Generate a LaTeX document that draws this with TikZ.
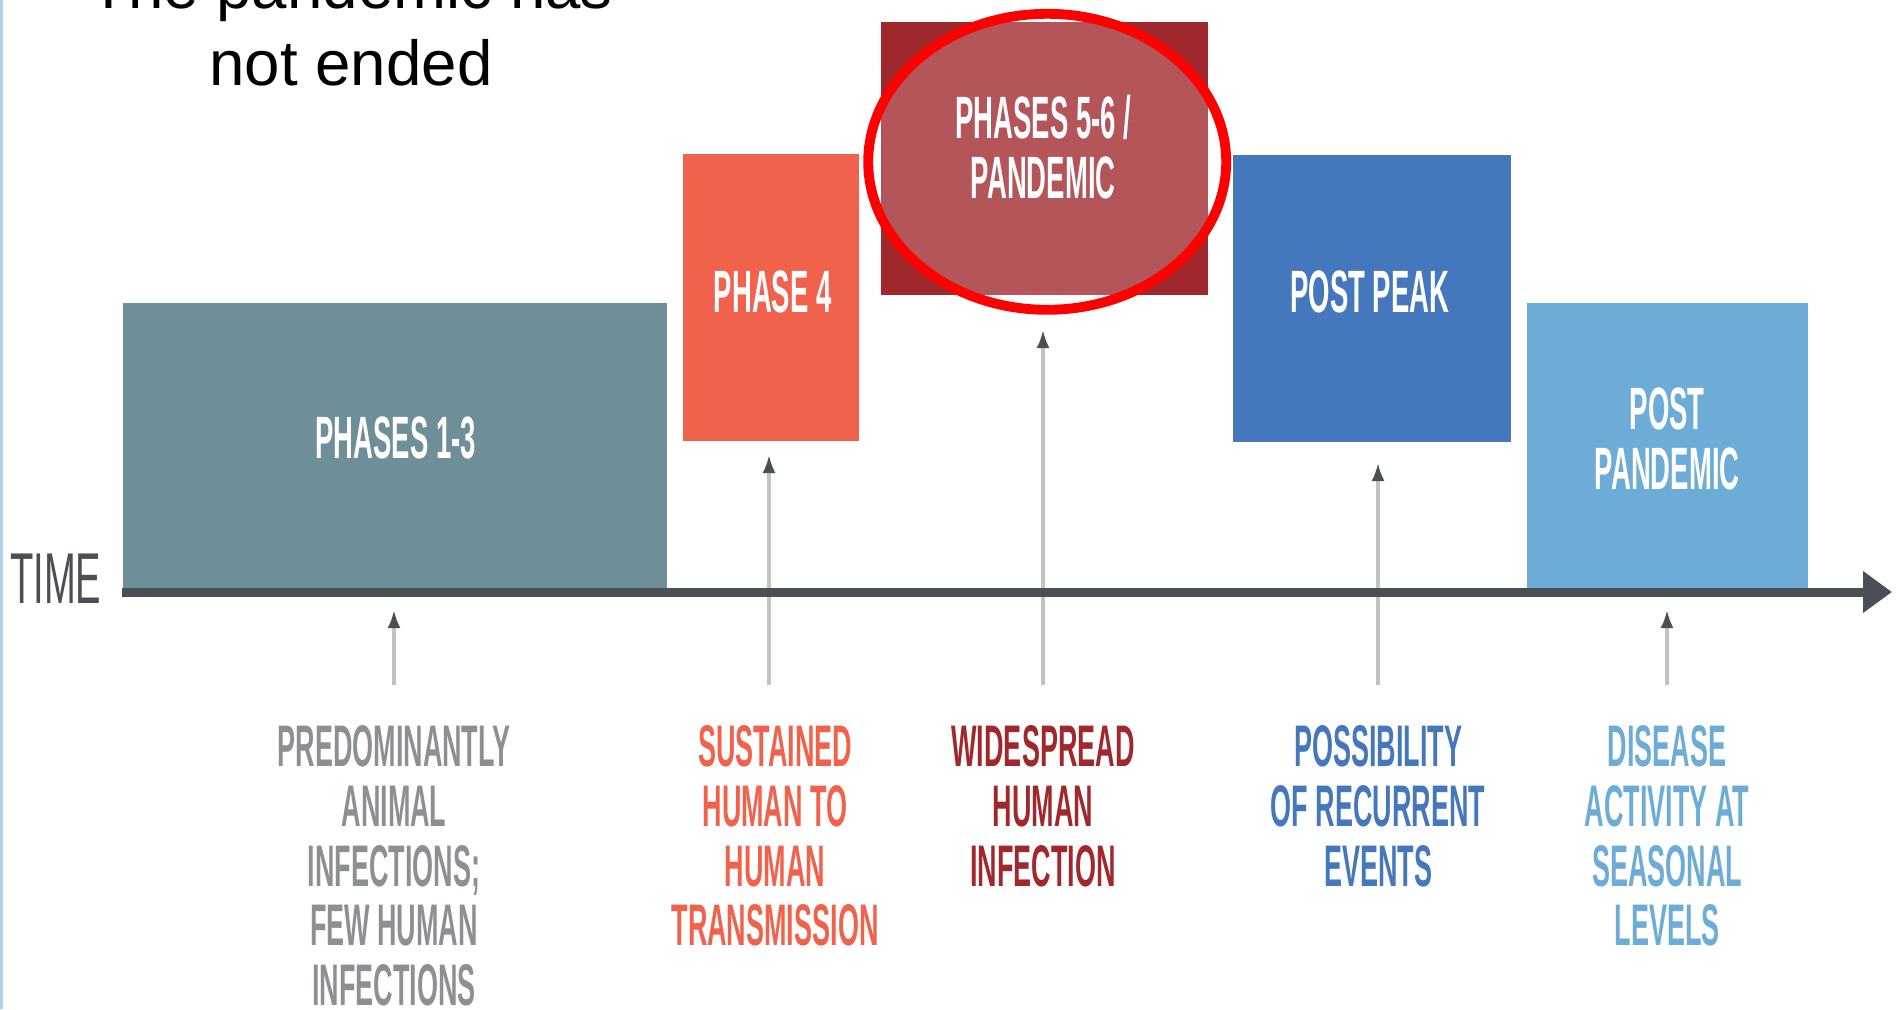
\documentclass[tikz,border=0pt]{standalone}
\usepackage{fontspec}
\setmainfont{Liberation Sans}
\newfontfamily\condfont[FakeStretch=0.46]{Liberation Sans}
\newfontfamily\axisfont[FakeStretch=0.53]{Liberation Sans}
\usetikzlibrary{arrows.meta, positioning}

\definecolor{earlygray}{RGB}{110,143,152}
\definecolor{notegray}{RGB}{140,144,148}
\definecolor{alertorange}{RGB}{240,98,76}
\definecolor{pandred}{RGB}{160,40,45}
\definecolor{peakblue}{RGB}{68,119,187}
\definecolor{seasonblue}{RGB}{108,172,214}
\definecolor{axisgray}{RGB}{74,79,84}
\definecolor{tickgray}{RGB}{195,195,195}
\definecolor{slideedge}{RGB}{172,208,236}

\begin{document}
\begin{tikzpicture}[x=1cm, y=1cm, line join=round,
    box/.style={fill=#1, inner sep=0pt, anchor=south west},
    boxtxt/.style={text=white, inner sep=0pt, align=center,
      font={\condfont\bfseries\fontsize{17}{17}\selectfont}},
    note/.style={text=#1, inner sep=0pt, align=center,
      font={\condfont\bfseries\fontsize{16.7}{17}\selectfont}},
    tick/.style={draw=tickgray, line width=0.9pt,
      -{Latex[length=1.8mm, width=1.3mm, color=axisgray]}},
    ring/.style={draw=red, line width=2.8pt, fill=white, fill opacity=0.21},
    >={Triangle[length=2.9mm, width=4mm]}]
  \useasboundingbox (0,0) rectangle (19,10.09);
  \draw[slideedge, line width=0.9pt] (0.01,0) -- (0.01,10.09);

  % title
  \node[anchor=south, inner sep=0pt, align=center,
    font={\fontsize{18.1}{21.9}\selectfont}] (title) at (3.51,9.22)
    {The pandemic has\\not ended};

  % phase blocks along the time line
  \node[box=earlygray, minimum width=5.44cm, minimum height=2.88cm] (p13) at (1.22,4.17) {};
  \node[box=alertorange, minimum width=1.76cm, minimum height=2.87cm] (p4) at (6.82,5.67) {};
  \node[box=pandred, minimum width=3.27cm, minimum height=2.73cm] (p56) at (8.80,7.13) {};
  \node[box=peakblue, minimum width=2.78cm, minimum height=2.87cm] (ppk) at (12.32,5.66) {};
  \node[box=seasonblue, minimum width=2.81cm, minimum height=2.88cm] (ppd) at (15.26,4.17) {};

  \draw[ring] ([xshift=0.03cm, yshift=-0.03cm]p56.center) ellipse [x radius=1.79, y radius=1.48];

  \node[boxtxt] (t13) at ([xshift=0.01cm, yshift=0.09cm]p13.center) {PHASES 1-3};
  \node[boxtxt] (t4) at ([xshift=0.02cm, yshift=0.06cm]p4.center) {PHASE 4};
  \node[boxtxt] (t56) at ([xshift=-0.01cm, yshift=0.12cm]p56.center) {PHASES 5-6 /\\PANDEMIC};
  \node[boxtxt] (tpk) at ([xshift=-0.02cm, yshift=0.07cm]ppk.center) {POST PEAK};
  \node[boxtxt] (tpd) at ([yshift=0.08cm]ppd.center) {POST\\PANDEMIC};

  % pointers from the notes up to each phase
  \foreach \nm/\x/\tip in {13/3.94/3.99, 4/7.69/5.54, 56/10.43/6.79, pk/13.78/5.46, pd/16.67/3.99} {
    \coordinate (b\nm) at (\x,3.24);
    \coordinate (h\nm) at (\x,\tip);
    \draw[tick] (b\nm) -- (h\nm);
  }

  \node[note=notegray, below=0.40cm of b13] (n13)
    {PREDOMINANTLY\\ANIMAL\\INFECTIONS;\\FEW HUMAN\\INFECTIONS};
  \node[note=alertorange, below=0.40cm of b4, xshift=0.06cm] (n4)
    {SUSTAINED\\HUMAN TO\\HUMAN\\TRANSMISSION};
  \node[note=pandred, below=0.40cm of b56] (n56)
    {WIDESPREAD\\HUMAN\\INFECTION};
  \node[note=peakblue, below=0.40cm of bpk] (npk)
    {POSSIBILITY\\OF RECURRENT\\EVENTS};
  \node[note=seasonblue, below=0.40cm of bpd] (npd)
    {DISEASE\\ACTIVITY AT\\SEASONAL\\LEVELS};

  % time axis
  \coordinate (tend) at (18.92,4.17);
  \draw[->, axisgray, line width=0.09cm] (p13.south west) -- (tend);
  \node[anchor=base east, inner sep=0pt, text=axisgray,
    font={\axisfont\fontsize{20.5}{20.5}\selectfont}] (time) at (1.02,4.06) {TIME};
\end{tikzpicture}
\end{document}
